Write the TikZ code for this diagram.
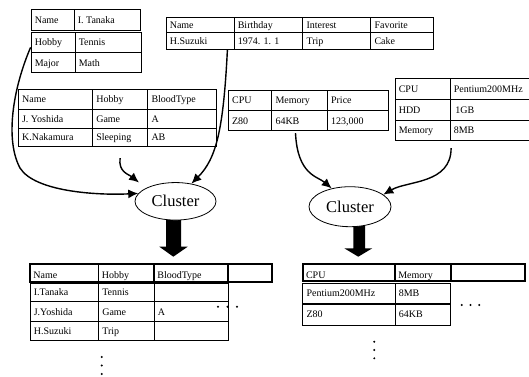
\documentclass[tikz,border=0pt]{standalone}
\usepackage{fontspec}
\setmainfont{Liberation Serif}
\usetikzlibrary{fit,arrows.meta,shapes.geometric}
\tikzset{
  cellbox/.style={draw, line width=0.8pt, inner sep=0pt},
  headbox/.style={draw, line width=1.7pt, inner sep=0pt},
  celltxt/.style={anchor=west, inner xsep=4pt, inner ysep=0pt, text height=6.8pt, text depth=0pt,
    font=\fontsize{10}{11}\selectfont},
  cluster/.style={ellipse, draw, line width=0.8pt, fill=white, inner sep=0pt,
    font=\fontsize{16.5}{18}\selectfont},
  conn/.style={line width=1.4pt, -{Latex[length=10pt,width=9pt]}},
  dot/.style={fill=black},
}
% \tcell[text opts]{name}{x1}{y1}{x2}{y2}{text}
\newcommand\tcell[7][]{%
  \node[cellbox, fit={(#3,#4) (#5,#6)}] (#2) {};
  \node[celltxt,#1] (#2t) at (#2.west) {#7};}
\newcommand\thcell[7][]{%
  \node[headbox, fit={(#3,#4) (#5,#6)}] (#2) {};
  \node[celltxt,yshift=-2.5pt,#1] (#2t) at (#2.west) {#7};}
\begin{document}
\begin{tikzpicture}[x=1pt,y=-1pt]
\useasboundingbox (0,0) rectangle (529,376);
\clip (0,0) rectangle (529,376);

% Table A (Tanaka)
\tcell{a11}{31}{9.5}{74}{30.8}{Name}
\tcell{a12}{74}{9.5}{140.5}{30.8}{I. Tanaka}
\tcell{a21}{31}{32}{75}{52.7}{Hobby}
\tcell{a22}{75}{32}{141.5}{52.7}{Tennis}
\tcell{a31}{31}{52.7}{75}{72.7}{Major}
\tcell{a32}{75}{52.7}{141.5}{72.7}{Math}

% Table B (Suzuki)
\tcell{b11}{166}{17.3}{234}{32.7}{Name}
\tcell{b12}{234}{17.3}{302.7}{32.7}{Birthday}
\tcell{b13}{302.7}{17.3}{370.7}{32.7}{Interest}
\tcell{b14}{370.7}{17.3}{433}{32.7}{Favorite}
\tcell{b21}{166}{32.7}{234}{49.3}{H.Suzuki}
\tcell{b22}{234}{32.7}{302.7}{49.3}{1974. 1. 1}
\tcell{b23}{302.7}{32.7}{370.7}{49.3}{Trip}
\tcell{b24}{370.7}{32.7}{433}{49.3}{Cake}

% Table C (Yoshida)
\tcell{c11}{18.3}{89.5}{92.5}{109.3}{Name}
\tcell{c12}{92.5}{89.5}{147.7}{109.3}{Hobby}
\tcell{c13}{147.7}{89.5}{216}{109.3}{BloodType}
\tcell{c21}{18.3}{109.3}{92.5}{128}{J. Yoshida}
\tcell{c22}{92.5}{109.3}{147.7}{128}{Game}
\tcell{c23}{147.7}{109.3}{216}{128}{A}
\tcell{c31}{18.3}{128}{92.5}{146.7}{K.Nakamura}
\tcell{c32}{92.5}{128}{147.7}{146.7}{Sleeping}
\tcell{c33}{147.7}{128}{216}{146.7}{AB}

% Table D (Z80)
\tcell{d11}{228.3}{90}{271.7}{110.7}{CPU}
\tcell{d12}{271.7}{90}{327.3}{110.7}{Memory}
\tcell{d13}{327.3}{90}{388.3}{110.7}{Price}
\tcell{d21}{228.3}{110.7}{271.7}{130.7}{Z80}
\tcell{d22}{271.7}{110.7}{327.3}{130.7}{64KB}
\tcell{d23}{327.3}{110.7}{388.3}{130.7}{123,000}

% Table E (Pentium)
\tcell{e11}{395}{78}{450}{99.3}{CPU}
\tcell{e12}{450}{78}{545}{99.3}{Pentium200MHz}
\tcell{e21}{395}{99.3}{450}{120.3}{HDD}
\tcell{e22}{450}{99.3}{545}{120.3}{\,1GB}
\tcell{e31}{395}{120.3}{450}{140.7}{Memory}
\tcell{e32}{450}{120.3}{545}{140.7}{8MB}

% Fat arrows (drawn under the ellipses)
\fill (166,215) -- (181,215) -- (181,246.7) -- (187.7,246.7) -- (173.3,256.7)
  -- (159.3,246.7) -- (166,246.7) -- cycle;
\fill (353.3,220) -- (365,220) -- (365,248.3) -- (372.3,248.3) -- (358.3,256.7)
  -- (344.3,248.3) -- (353.3,248.3) -- cycle;

% Cluster nodes
\node[cluster, minimum width=81pt, minimum height=37.5pt] (k1) at (175.5,201.3) {Cluster};
\node[cluster, minimum width=82pt, minimum height=40pt] (k2) at (350,206.7) {Cluster};
\coordinate (k1in) at (139,182.5);

% Connectors
\draw[conn] ([yshift=-5pt]a21.west) .. controls +(-18,42) and +(-15,-28) .. (20,168)
  .. controls +(15,24) and +(-40,2) .. (k1.168);
\draw[conn] ([xshift=-7pt]b21.south east) .. controls +(-4,80) and +(25,-25) .. (k1.48);
\draw[conn] ([yshift=-11pt]c32.south) .. controls +(-2,14) and +(-10,-8) .. (k1in);
\draw[conn] ([xshift=-4pt,yshift=-2pt]d22.south) .. controls +(2,42) and +(-14,-12) .. (k2.135);
\draw[conn] ([xshift=1.5pt,yshift=-7pt]e32.south west) .. controls +(0,36) and +(24,-14) .. (k2.20);

% Bottom-left result table
\thcell{f11}{30}{264}{98.5}{281.7}{Name}
\thcell{f12}{98.5}{264}{154}{281.7}{Hobby}
\thcell{f13}{154}{264}{228.3}{281.7}{BloodType}
\thcell{f14}{228.3}{264}{271.7}{281.7}{}
\tcell{f21}{30}{283.3}{98.5}{301.7}{I.Tanaka}
\tcell{f22}{98.5}{283.3}{154}{301.7}{Tennis}
\tcell{f23}{154}{283.3}{228.3}{301.7}{}
\tcell{f31}{30}{301.7}{98.5}{321.7}{J.Yoshida}
\tcell{f32}{98.5}{301.7}{154}{321.7}{Game}
\tcell{f33}{154}{301.7}{228.3}{321.7}{A}
\tcell{f41}{30}{321.7}{98.5}{340.7}{H.Suzuki}
\tcell{f42}{98.5}{321.7}{154}{340.7}{Trip}
\tcell{f43}{154}{321.7}{228.3}{340.7}{}

% Bottom-right result table
\thcell{g11}{302.7}{264}{395}{281}{CPU}
\thcell{g12}{395}{264}{450.7}{281}{Memory}
\thcell{g13}{450.7}{264}{525}{281}{}
\tcell{g21}{302.7}{283.3}{395}{303.3}{Pentium200MHz}
\tcell{g22}{395}{283.3}{450.7}{303.3}{8MB}
\tcell{g31}{302.7}{304}{395}{325}{Z80}
\tcell{g32}{395}{304}{450.7}{325}{64KB}

% Ellipsis dots
\foreach \x in {218,227.5,237} \fill[dot] (\x,306.7) circle (1.1pt);
\foreach \y in {357,365.5,374} \fill[dot] (101.7,\y) circle (1.1pt);
\foreach \x in {461.7,470.5,479.3} \fill[dot] (\x,305) circle (1.1pt);
\foreach \y in {341.7,350,358.3} \fill[dot] (374.3,\y) circle (1.1pt);
\end{tikzpicture}
\end{document}
